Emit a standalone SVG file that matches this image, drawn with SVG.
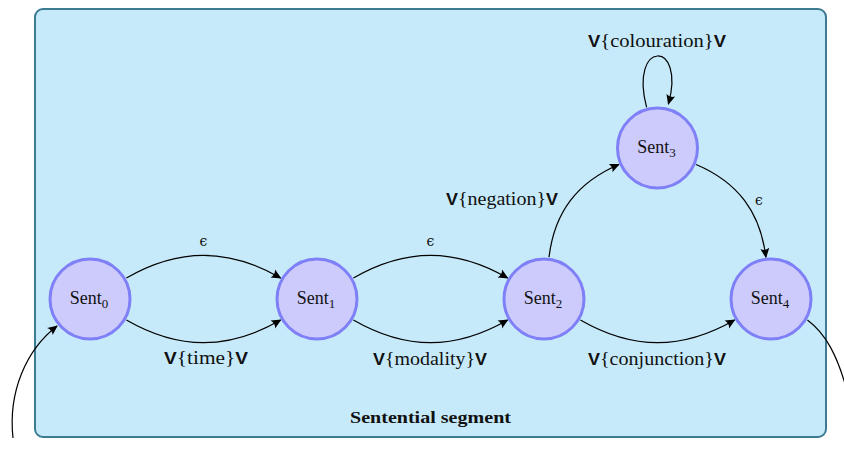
<svg xmlns="http://www.w3.org/2000/svg" width="844" height="450" viewBox="0 0 844 450">
  <style>
    .node { fill: #cccbfc; stroke: #7f7ff7; stroke-width: 3; }
    .lbl { font-family: "Liberation Serif", "DejaVu Serif", serif; font-size: 19px; fill: #111; }
    .name { font-family: "Liberation Serif", "DejaVu Serif", serif; font-size: 18px; fill: #111; text-anchor: middle; }
    .sub { font-size: 13px; }
    .v { font-family: "Liberation Sans", Arial, sans-serif; font-weight: bold; font-size: 17px; }
    .eps { font-family: "DejaVu Serif", serif; font-size: 14px; fill: #111; text-anchor: middle; }
    .edge { fill: none; stroke: #000; stroke-width: 1.2; marker-end: url(#tip); }
    .plain { fill: none; stroke: #000; stroke-width: 1.2; }
  </style>
  <defs>
    <marker id="tip" viewBox="-10 -5 12 10" refX="0" refY="0" markerWidth="12" markerHeight="10" markerUnits="userSpaceOnUse" orient="auto">
      <path d="M1,0 L-9,-4.5 Q-6,0 -9,4.5 Z" fill="#000"/>
    </marker>
  </defs>

  <!-- segment frame -->
  <g id="segment">
    <rect x="35" y="9" width="791" height="428" rx="8" ry="8" fill="#c6eaf9" stroke="#3d7b93" stroke-width="2"/>
    <text x="430.5" y="423" text-anchor="middle" font-family="Liberation Serif, DejaVu Serif, serif" font-weight="bold" font-size="17" fill="#111" textLength="161" lengthAdjust="spacingAndGlyphs">Sentential segment</text>
  </g>

  <!-- transitions -->
  <g id="edges">
    <path class="edge" d="M13,438 C8,392 26,350 57,326"/>
    <path class="edge" d="M126.4,278 C178.7,247.8 228.3,247.8 280.6,278"/>
    <path class="edge" d="M126.4,320 C178.7,350.2 228.3,350.2 280.6,320"/>
    <path class="edge" d="M353.4,278 C405.7,247.8 455.3,247.8 507.6,278"/>
    <path class="edge" d="M353.4,320 C405.7,350.2 455.3,350.2 507.6,320"/>
    <path class="edge" d="M580.4,320 C632.7,350.2 682.3,350.2 734.6,320"/>
    <path class="edge" d="M549,257.3 C554.4,212.1 577.1,182.4 618.9,164.5"/>
    <path class="edge" d="M696.1,164.5 C738,182.3 760.4,212.1 765.9,257.3"/>
    <path class="edge" d="M646.6,107.4 C628.6,39.4 686.4,39.4 668.4,104"/>
    <path class="plain" d="M807.4,320 C825,333 838,355 848,395"/>

    <text class="eps" x="203.5" y="246">ϵ</text>
    <text class="eps" x="430.5" y="246">ϵ</text>
    <text class="eps" x="759" y="205">ϵ</text>

    <text class="lbl" x="206" y="364" text-anchor="middle" textLength="84" lengthAdjust="spacingAndGlyphs"><tspan class="v">V</tspan>{time}<tspan class="v">V</tspan></text>
    <text class="lbl" x="430" y="365" text-anchor="middle" textLength="114" lengthAdjust="spacingAndGlyphs"><tspan class="v">V</tspan>{modality}<tspan class="v">V</tspan></text>
    <text class="lbl" x="657" y="365" text-anchor="middle" textLength="138" lengthAdjust="spacingAndGlyphs"><tspan class="v">V</tspan>{conjunction}<tspan class="v">V</tspan></text>
    <text class="lbl" x="502" y="205" text-anchor="middle" textLength="112" lengthAdjust="spacingAndGlyphs"><tspan class="v">V</tspan>{negation}<tspan class="v">V</tspan></text>
    <text class="lbl" x="657" y="46.5" text-anchor="middle" textLength="138" lengthAdjust="spacingAndGlyphs"><tspan class="v">V</tspan>{colouration}<tspan class="v">V</tspan></text>
  </g>

  <!-- states -->
  <g id="sent0">
    <circle class="node" cx="90" cy="299" r="40"/>
    <text class="name" x="89" y="304">Sent<tspan class="sub" dy="4">0</tspan></text>
  </g>
  <g id="sent1">
    <circle class="node" cx="317" cy="299" r="40"/>
    <text class="name" x="316" y="304">Sent<tspan class="sub" dy="4">1</tspan></text>
  </g>
  <g id="sent2">
    <circle class="node" cx="544" cy="299" r="40"/>
    <text class="name" x="543" y="304">Sent<tspan class="sub" dy="4">2</tspan></text>
  </g>
  <g id="sent3">
    <circle class="node" cx="657.5" cy="148" r="40"/>
    <text class="name" x="656.5" y="153">Sent<tspan class="sub" dy="4">3</tspan></text>
  </g>
  <g id="sent4">
    <circle class="node" cx="771" cy="299" r="40"/>
    <text class="name" x="770" y="304">Sent<tspan class="sub" dy="4">4</tspan></text>
  </g>
</svg>
